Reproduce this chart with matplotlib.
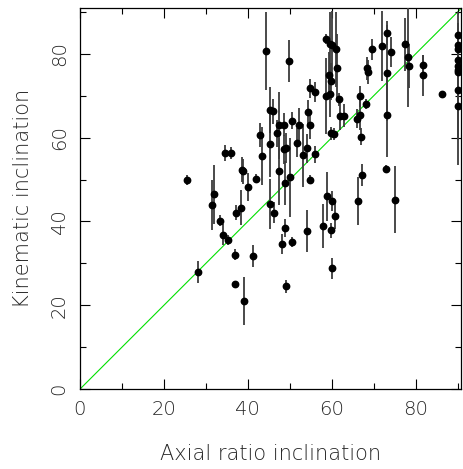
import numpy as np
import matplotlib
matplotlib.use("Agg")
import matplotlib.pyplot as plt

# axial ratio inclination, kinematic inclination, error on kinematic inclination
axial = [25.6, 28.1, 31.4, 32.0, 33.3, 34.0, 34.6, 35.2, 36.0, 37.0,
         37.2, 37.0, 38.3, 38.7, 38.8, 39.0, 40.0, 41.2, 41.9, 42.9,
         43.3, 44.4, 45.2, 45.9, 45.2, 45.3, 46.2, 47.0, 47.5, 47.5,
         48.1, 48.6, 48.7, 49.0, 48.8, 48.8, 49.1, 49.8, 50.1, 50.6,
         50.5, 51.7, 52.3, 53.2, 54.0, 54.1, 54.4, 54.7, 54.9, 54.8,
         55.9, 56.1, 57.8, 58.6, 58.7, 58.9, 59.3, 59.5, 59.6, 59.8,
         59.8, 59.8, 60.0, 60.1, 60.1, 60.4, 60.7, 60.9, 61.3, 61.8,
         61.9, 62.9, 66.0, 66.2, 66.6, 66.8, 67.0, 67.1, 68.2, 68.3,
         68.7, 69.6, 72.0, 72.8, 73.1, 73.1, 73.2, 74.2, 75.0, 77.5,
         78.2, 78.3, 81.6, 81.7, 86.3,
         90.0, 90.0, 90.0, 90.0, 90.0, 90.0, 90.0, 90.0, 90.0]
kinematic = [49.8, 28.0, 44.0, 46.5, 40.2, 36.8, 56.3, 35.6, 56.3, 32.1,
             42.1, 25.0, 43.3, 52.3, 52.0, 21.0, 48.2, 31.7, 50.2, 60.6,
             55.6, 80.6, 66.5, 66.3, 58.5, 44.2, 42.1, 61.0, 62.9, 52.0,
             34.7, 63.1, 57.2, 57.5, 49.1, 38.5, 24.5, 78.2, 50.5, 64.0,
             35.2, 58.8, 62.9, 55.8, 37.7, 57.4, 66.0, 63.1, 50.0, 71.7,
             70.9, 56.0, 38.9, 69.9, 83.6, 46.0, 75.0, 70.4, 82.4, 73.4,
             61.0, 37.9, 82.1, 44.8, 28.8, 60.9, 41.3, 81.0, 76.6, 69.1,
             65.2, 65.2, 64.5, 44.8, 69.8, 65.3, 60.2, 51.1, 68.1, 76.5,
             75.6, 81.0, 81.9, 52.6, 75.4, 65.4, 84.9, 80.3, 45.2, 82.2,
             79.2, 77.1, 77.2, 74.8, 70.5,
             84.4, 82.1, 81.0, 78.4, 77.0, 76.2, 75.6, 71.3, 67.5]
kin_err = [1.2, 2.6, 6.0, 7.0, 1.3, 2.5, 2.0, 1.2, 1.5, 1.4,
           1.8, 0.8, 4.2, 3.0, 3.0, 5.7, 3.4, 2.6, 1.0, 2.8,
           7.0, 9.3, 5.5, 3.0, 8.0, 6.0, 2.5, 3.2, 8.0, 8.0,
           2.4, 2.8, 3.5, 3.5, 5.2, 2.2, 1.6, 5.0, 9.5, 2.0,
           1.2, 3.4, 4.2, 7.5, 5.0, 3.5, 3.0, 3.5, 1.0, 2.2,
           2.4, 2.0, 5.2, 9.0, 1.2, 5.8, 5.5, 5.5, 7.5, 4.4,
           1.6, 1.8, 8.0, 2.4, 2.4, 1.4, 3.0, 9.0, 8.0, 1.6,
           3.5, 2.8, 2.2, 5.7, 2.6, 3.6, 2.0, 2.6, 1.2, 2.8,
           2.8, 2.4, 8.3, 0.8, 11.5, 10.0, 2.8, 3.6, 8.0, 6.3,
           12.0, 5.2, 2.4, 4.8, 0.0,
           3.0, 4.0, 9.0, 4.0, 6.0, 6.0, 4.0, 12.0, 14.0]

plt.rcParams['font.family'] = ['DejaVu Sans']
txt_color = '#262626'

fig = plt.figure(figsize=(4.64, 4.69), dpi=100)
ax = fig.add_axes([0.172, 0.170, 0.822, 0.814])

ax.plot([0, 91], [0, 91], color='#00e000', lw=0.8, zorder=1)
ax.errorbar(axial, kinematic, yerr=kin_err, fmt='o', ms=4.6, color='black',
            ecolor='#3c3c3c', elinewidth=1.3, capsize=0, zorder=3)

ax.set_xlim(0, 90.8)
ax.set_ylim(0, 91)
ax.set_xticks(np.arange(0, 91, 20))
ax.set_yticks(np.arange(0, 91, 20))
ax.set_xticks(np.arange(0, 91, 10), minor=True)
ax.set_yticks(np.arange(0, 91, 10), minor=True)
ax.tick_params(which='both', direction='in', top=True, right=True,
               width=0.8, colors='black', labelcolor=txt_color)
ax.tick_params(which='major', length=7, labelsize=14, pad=8)
ax.tick_params(which='minor', length=4)
for lab in ax.get_yticklabels():
    lab.set_rotation(90)
    lab.set_va('center')
for s in ax.spines.values():
    s.set_linewidth(0.9)

ax.set_xlabel('Axial ratio inclination', fontsize=15, color=txt_color,
              labelpad=18, fontweight='light')
ax.set_ylabel('Kinematic inclination', fontsize=15, color=txt_color,
              labelpad=12, fontweight='light')
for lab in ax.get_xticklabels() + ax.get_yticklabels():
    lab.set_fontweight('light')

fig.savefig('out.png', dpi=100)
